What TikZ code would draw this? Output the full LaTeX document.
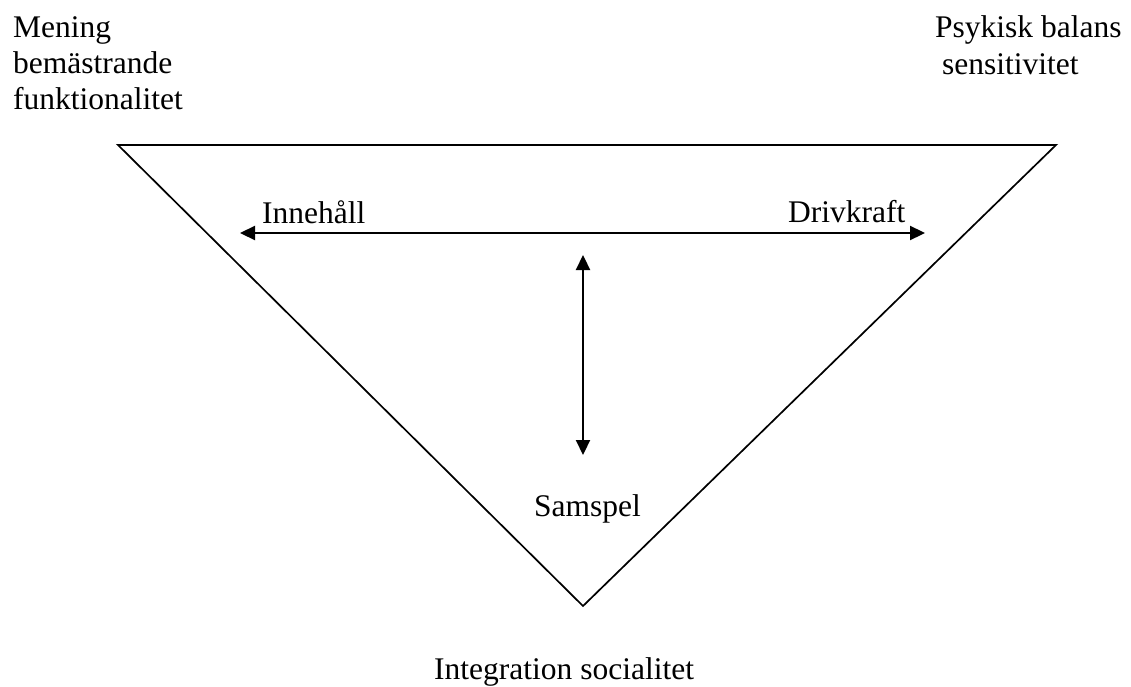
\documentclass[tikz,border=0pt]{standalone}
\usepackage{fontspec}
\setmainfont{Liberation Serif}
\usetikzlibrary{arrows.meta}

\begin{document}
\begin{tikzpicture}[x=1pt,y=-1pt,
    lbl/.style={inner sep=0pt,anchor=base west,font=\fontsize{31.5}{36}\selectfont},
    side/.style={line width=1.7pt,line join=miter},
    pil/.style={line width=2.2pt,{Triangle[length=15pt,width=14pt]}-{Triangle[length=15pt,width=14pt]}}]
            \useasboundingbox (0,0) rectangle (1131,687);
            % corners of the triangle
            \coordinate (vl) at (118,145);
            \coordinate (vr) at (1056,145);
            \coordinate (vb) at (583,606);
            \draw[side] (vl)--(vr)--(vb)--cycle;
            % arrows
            \coordinate (hl) at (240,233);
            \coordinate (hr) at (925,233);
            \coordinate (vt) at (583,255);
            \coordinate (vd) at (583,455);
            \draw[pil] (hl)--(hr);
            \draw[pil] (vt)--(vd);
            % labels
            \node[lbl] (mening) at (13,38) {Mening};
            \node[lbl] (bemast) at (13,74) {bemästrande};
            \node[lbl] (funkt) at (13,110) {funktionalitet};
            \node[lbl] (psyk) at (935,38) {Psykisk balans};
            \node[lbl] (sens) at (942,75) {sensitivitet};
            \node[lbl] (inneh) at (262,223) {Innehåll};
            \node[lbl] (driv) at (788,222) {Drivkraft};
            \node[lbl] (samsp) at (534,516) {Samspel};
            \node[lbl] (integ) at (434,679) {Integration socialitet};
        \end{tikzpicture}
\end{document}
